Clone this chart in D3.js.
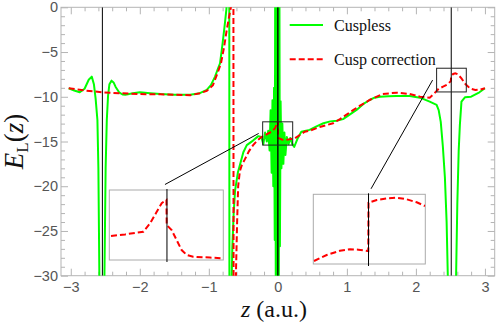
<!DOCTYPE html>
<html>
<head>
<meta charset="utf-8">
<script src="https://d3js.org/d3.v7.min.js"></script>
<style>
  body { margin: 0; background: #fff; }
  .tick text { font-family: "Liberation Sans", Arial, sans-serif; font-size: 14.5px; fill: #555; }
  .tick line { stroke: #b4b4b4; }
</style>
</head>
<body>
<div id="chart"></div>
<script>
// nucleus positions (z, a.u.)
const nuclei = [-2.542, 0, 2.512];

// local energy, cuspless basis  [z, E_L]
const cuspless = [
  [-3.03,-9.05],[-2.95,-9.3],[-2.87,-9.5],[-2.80,-9.1],[-2.74,-8.1],[-2.696,-7.75],[-2.665,-8.6],
  [-2.64,-10.2],[-2.614,-12.6],[-2.60,-18],[-2.585,-30.5],[-2.57,-60],[-2.525,-60],[-2.513,-30.5],
  [-2.495,-18],[-2.478,-12.6],[-2.46,-9.9],[-2.44,-8.6],[-2.41,-8.2],[-2.38,-8.4],[-2.35,-8.9],
  [-2.30,-9.5],[-2.25,-9.75],[-2.21,-9.77],[-2.1,-9.6],[-2.0,-9.5],[-1.85,-9.6],[-1.7,-9.7],
  [-1.5,-9.78],[-1.27,-9.77],[-1.13,-9.6],[-1.03,-9.24],[-0.97,-8.7],[-0.91,-7.75],[-0.87,-6.9],
  [-0.838,-6.26],[-0.80,-4.0],[-0.77,-2.0],[-0.745,-0.2],[-0.72,8],[-0.706,40],[-0.700,-60],
  [-0.68,-35],[-0.66,-27],[-0.64,-23],[-0.62,-20.5],[-0.58,-18.5],[-0.50,-16.2],[-0.45,-15.4],
  [-0.36,-14.9],[-0.283,-14.4],[-0.24,-14.5],[-0.21,-15.3],[-0.185,-14.0],[-0.16,-15.0],
  [-0.14,-13.8],[-0.12,-16.0],[-0.105,-11.5],[-0.09,-18.5],[-0.078,-10.4],[-0.066,-20],
  [-0.055,-9],[-0.045,-26],[-0.038,5],[-0.028,-40],[-0.018,5],[-0.008,-40],[0.002,5],
  [0.012,-40],[0.022,5],[0.03,-26.7],[0.04,-10.5],[0.052,-18],[0.065,-13],[0.08,-17.5],
  [0.095,-14],[0.11,-16.5],[0.13,-14.5],[0.155,-15.3],[0.18,-14.6],[0.21,-15.3],[0.237,-15.6],
  [0.29,-14.6],[0.34,-13.9],[0.46,-13.7],[0.56,-13.3],
  [0.66,-12.96],[0.76,-12.75],[0.85,-12.67],[0.945,-12.5],[1.04,-12.0],[1.14,-11.47],
  [1.24,-10.8],[1.33,-10.36],[1.40,-10.1],[1.48,-9.99],[1.6,-9.93],[1.72,-9.91],[1.91,-9.91],
  [2.06,-10.1],[2.2,-10.55],[2.30,-10.9],[2.33,-11.5],[2.36,-12.8],[2.39,-15.5],[2.42,-19],
  [2.445,-24],[2.465,-31],[2.49,-60],[2.535,-60],[2.58,-31],[2.60,-22],[2.62,-16],
  [2.637,-13.15],[2.66,-10.55],[2.71,-10.06],[2.80,-9.99],[2.92,-9.5],[3.0,-9.05]
];

// local energy with cusp correction  [z, E_L]
const cuspCorr = [
  [-3.03,-9.05],[-2.8,-9.3],[-2.54,-9.5],[-2.3,-9.6],[-2.0,-9.7],[-1.7,-9.72],[-1.5,-9.78],
  [-1.27,-9.83],[-1.13,-9.6],[-1.03,-9.35],[-0.94,-8.7],[-0.868,-7.23],[-0.823,-6.22],
  [-0.78,-4.5],[-0.74,-2.5],[-0.70,-0.8],[-0.675,0.2],[-0.655,10],[-0.646,40],[-0.640,-60],
  [-0.62,-36],[-0.605,-29],[-0.59,-24],[-0.575,-20],[-0.55,-18.3],[-0.52,-17.6],[-0.478,-17.0],
  [-0.42,-16.1],[-0.358,-15.4],[-0.30,-14.9],[-0.236,-14.5],[-0.164,-14.2],[-0.09,-13.9],
  [-0.04,-13.5],[-0.012,-13.0],[0,-12.7],[0.004,-14.6],[0.058,-14.77],[0.116,-14.83],
  [0.246,-14.64],[0.39,-13.9],[0.46,-13.8],[0.62,-13.35],[0.80,-12.96],[0.90,-12.5],
  [0.99,-12.03],[1.09,-11.5],[1.19,-11.0],[1.33,-10.36],[1.52,-9.69],[1.72,-9.54],[1.91,-9.69],
  [2.06,-9.99],[2.2,-10.1],[2.27,-9.6],[2.33,-9.1],[2.40,-8.85],[2.46,-8.6],[2.505,-8.25],
  [2.512,-7.7],[2.54,-7.45],[2.57,-7.37],[2.61,-7.5],[2.66,-7.95],[2.72,-8.6],[2.79,-9.1],
  [2.86,-9.25],[2.93,-9.2],[3.0,-9.05]
];

// zoomed views (cusp correction near the nuclei)
const insetCenter = [
  [-0.2135,-14.51],[-0.16,-14.45],[-0.090,-14.35],[-0.0647,-14.04],[-0.039,-13.61],
  [-0.020,-13.29],[-0.0075,-13.2],[-0.002,-13.17],[-0.001,-14.1],[0.018,-14.29],
  [0.037,-14.66],[0.056,-15.03],[0.075,-15.21],[0.10,-15.28],[0.164,-15.31],[0.215,-15.34]
];
const insetRight = [
  [2.3027,-9.346],[2.3514,-9.118],[2.4025,-8.954],[2.4409,-8.901],[2.4728,-8.916],
  [2.5111,-8.966],[2.5119,-7.129],[2.5434,-7.027],[2.5818,-6.962],[2.6202,-6.939],
  [2.6586,-7.0],[2.6970,-7.114],[2.7288,-7.255]
];
const zoomZ = [[-0.22, 0.215], [2.30, 2.73]];
const zoomE = [[-15.4, -12.8], [-9.46, -6.81]];
const zoomNucleus = [0, 2.512];

const xMajor = [-3, -2, -1, 0, 1, 2, 3];
const yMajor = [-30, -25, -20, -15, -10, -5, 0];
const seriesNames = ["Cuspless", "Cusp correction"];

const SERIF = "'Liberation Serif', 'Times New Roman', serif";
const W = 498, H = 329;
const L = 61, R = 494.7, T = 7.3, B = 275.7;

const svg = d3.select("#chart").append("svg")
  .attr("width", W).attr("height", H);

const x = d3.scaleLinear().domain([-Math.PI, Math.PI]).range([L, R]);
const y = d3.scaleLinear().domain([-30, 0]).range([B, T]);

// frame ticks (all pointing inward)
const xMinor = x.ticks(30).filter(v => !xMajor.includes(v));
const yMinor = y.ticks(30).filter(v => !yMajor.includes(v));
const fmt = d3.format("d");

function axisGroup(axis, tx, ty) {
  const g = svg.append("g").attr("transform", `translate(${tx},${ty})`).call(axis);
  g.select(".domain").remove();
  return g;
}
axisGroup(d3.axisBottom(x).tickValues(xMajor).tickSize(-7).tickPadding(6).tickFormat(fmt), 0, B);
axisGroup(d3.axisBottom(x).tickValues(xMinor).tickSize(-4).tickFormat(""), 0, B);
axisGroup(d3.axisTop(x).tickValues(xMajor).tickSize(-7).tickFormat(""), 0, T);
axisGroup(d3.axisTop(x).tickValues(xMinor).tickSize(-4).tickFormat(""), 0, T);
axisGroup(d3.axisLeft(y).tickValues(yMajor).tickSize(-7).tickPadding(3).tickFormat(fmt), L, 0);
axisGroup(d3.axisLeft(y).tickValues(yMinor).tickSize(-4).tickFormat(""), L, 0);
axisGroup(d3.axisRight(y).tickValues(yMajor).tickSize(-7).tickFormat(""), R, 0);
axisGroup(d3.axisRight(y).tickValues(yMinor).tickSize(-4).tickFormat(""), R, 0);

svg.append("rect")
  .attr("x", L).attr("y", T).attr("width", R - L).attr("height", B - T)
  .attr("fill", "none").attr("stroke", "#b4b4b4");

svg.append("clipPath").attr("id", "plotClip")
  .append("rect").attr("x", L).attr("y", T).attr("width", R - L).attr("height", B - T);

const plot = svg.append("g").attr("clip-path", "url(#plotClip)");

const line = d3.line().x(d => x(d[0])).y(d => y(d[1]));

plot.append("path").datum(cuspless)
  .attr("d", line).attr("fill", "none")
  .attr("stroke", "#00ff00").attr("stroke-width", 2).attr("stroke-linejoin", "round");

plot.append("path").datum(cuspCorr)
  .attr("d", line).attr("fill", "none")
  .attr("stroke", "#ff0000").attr("stroke-width", 2).attr("stroke-dasharray", "6,3");

// nuclei
plot.selectAll(".nuc").data(nuclei).enter().append("line")
  .attr("class", "nuc")
  .attr("x1", d => x(d)).attr("x2", d => x(d))
  .attr("y1", y(0)).attr("y2", y(-30))
  .attr("stroke", "#000").attr("stroke-width", (d, i) => i == 1 ? 1.4 : 1);

// zoom boxes in the main plot
plot.selectAll(".zbox").data(zoomZ).enter().append("rect")
  .attr("class", "zbox")
  .attr("x", d => x(d[0])).attr("width", d => x(d[1]) - x(d[0]))
  .attr("y", (d, i) => y(zoomE[i][1])).attr("height", (d, i) => y(zoomE[i][0]) - y(zoomE[i][1]))
  .attr("fill", "none").attr("stroke", "#222").attr("stroke-width", 1);

// insets
const insetBoxes = [
  { x: 109.3, y: 190, w: 114, h: 70 },
  { x: 313.3, y: 194.3, w: 112, h: 69.7 }
];
const insetData = [insetCenter, insetRight];

insetBoxes.forEach((b, i) => {
  const xi = d3.scaleLinear().domain(zoomZ[i]).range([b.x, b.x + b.w]);
  const yi = d3.scaleLinear().domain(zoomE[i]).range([b.y + b.h, b.y]);
  const g = svg.append("g");
  g.append("rect").attr("x", b.x).attr("y", b.y).attr("width", b.w).attr("height", b.h)
    .attr("fill", "#fff").attr("stroke", "#aaa");
  g.append("clipPath").attr("id", "inset" + i)
    .append("rect").attr("x", b.x).attr("y", b.y).attr("width", b.w).attr("height", b.h);
  g.append("path").datum(insetData[i])
    .attr("clip-path", `url(#inset${i})`)
    .attr("d", d3.line().x(d => xi(d[0])).y(d => yi(d[1])))
    .attr("fill", "none").attr("stroke", "#ff0000").attr("stroke-width", 2)
    .attr("stroke-dasharray", "6,3");
  const nx = xi(zoomNucleus[i]);
  g.append("line").attr("x1", nx).attr("x2", nx)
    .attr("y1", b.y - 1).attr("y2", b.y + b.h + 2)
    .attr("stroke", "#000");
  // connector to the zoom box
  g.append("line")
    .attr("x1", nx + (i == 0 ? -2 : 2.5)).attr("y1", b.y - 5.5)
    .attr("x2", x(zoomZ[i][0]) - 4).attr("y2", (y(zoomE[i][0]) + y(zoomE[i][1])) / 2)
    .attr("stroke", "#000");
});

// legend
const legend = svg.append("g");
[0, 1].forEach(i => {
  const ly = i == 0 ? 25 : 59.3;
  legend.append("line").attr("x1", 289.7).attr("x2", 323).attr("y1", ly).attr("y2", ly)
    .attr("stroke", i == 0 ? "#00ff00" : "#ff0000").attr("stroke-width", 2)
    .attr("stroke-dasharray", i == 0 ? null : "6,3");
  legend.append("text").attr("x", 334).attr("y", ly + 5.5)
    .attr("font-family", SERIF).attr("fill", "#111")
    .attr("font-size", 16).text(seriesNames[i]);
});

// axis labels
const xl = svg.append("text")
  .attr("font-family", SERIF).attr("fill", "#111")
  .attr("x", 274).attr("y", 317).attr("text-anchor", "middle").attr("font-size", 24);
xl.append("tspan").attr("font-style", "italic").text("z");
xl.append("tspan").text(" (a.u.)");

const yl = svg.append("text")
  .attr("font-family", SERIF).attr("fill", "#111")
  .attr("transform", `translate(23,${(T + B) / 2}) rotate(-90)`)
  .attr("text-anchor", "middle").attr("font-size", 27);
yl.append("tspan").attr("font-style", "italic").text("E");
yl.append("tspan").attr("font-size", 17).attr("dy", 5).text("L");
yl.append("tspan").attr("dy", -5).text("(");
yl.append("tspan").attr("font-style", "italic").text("z");
yl.append("tspan").text(")");
</script>
</body>
</html>
